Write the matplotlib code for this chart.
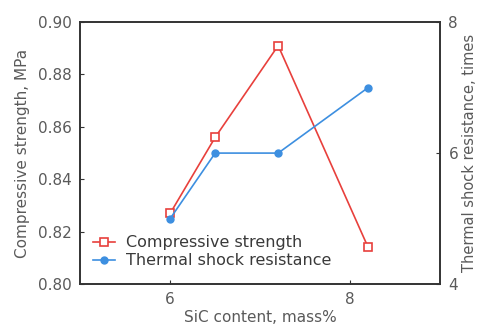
import numpy as np
import matplotlib.pyplot as plt

plt.rcParams['font.family'] = ['DejaVu Sans']

sic = [6.0, 6.5, 7.2, 8.2]
strength = [0.827, 0.856, 0.891, 0.814]
shock = [5.0, 6.0, 6.0, 7.0]

txt = '#5a5a5a'
fig, ax = plt.subplots(figsize=(4.8, 3.24), dpi=100)
fig.subplots_adjust(left=0.167, right=0.917, top=0.932, bottom=0.123)
ax2 = ax.twinx()

l1, = ax.plot(sic, strength, color='#e8403c', marker='s', mfc='white', mec='#e8403c',
              ms=6, mew=1.2, lw=1.2, label='Compressive strength')
l2, = ax2.plot(sic, shock, color='#3d8fe0', marker='o', ms=5, lw=1.2,
               label='Thermal shock resistance')

ax.set_xlim(5, 9)
ax.set_ylim(0.80, 0.90)
ax2.set_ylim(4, 8)
ax.set_xticks([6, 8])
ax.set_yticks(np.arange(0.80, 0.901, 0.02))
ax.set_yticklabels(['0.80', '0.82', '0.84', '0.86', '0.88', '0.90'])
ax2.set_yticks([4, 6, 8])

for a in (ax, ax2):
    a.tick_params(direction='in', length=3, colors='#333333', labelcolor=txt,
                  labelsize=11, pad=6)
    for s in a.spines.values():
        s.set_color('#333333')
        s.set_linewidth(1.2)

ax.set_xlabel('SiC content, mass%', color=txt, fontsize=11, labelpad=2)
ax.set_ylabel('Compressive strength, MPa', color=txt, fontsize=11, labelpad=6)
ax2.set_ylabel('Thermal shock resistance, times', color=txt, fontsize=10.5, labelpad=3)

leg = ax.legend(handles=[l1, l2], loc='lower left', frameon=False, fontsize=11.5,
                handlelength=1.4, handletextpad=0.65, borderpad=0, borderaxespad=0,
                labelspacing=0.2, bbox_to_anchor=(0.035, 0.06))
for t in leg.get_texts():
    t.set_color('#3a3a3a')

fig.savefig('out.png')
